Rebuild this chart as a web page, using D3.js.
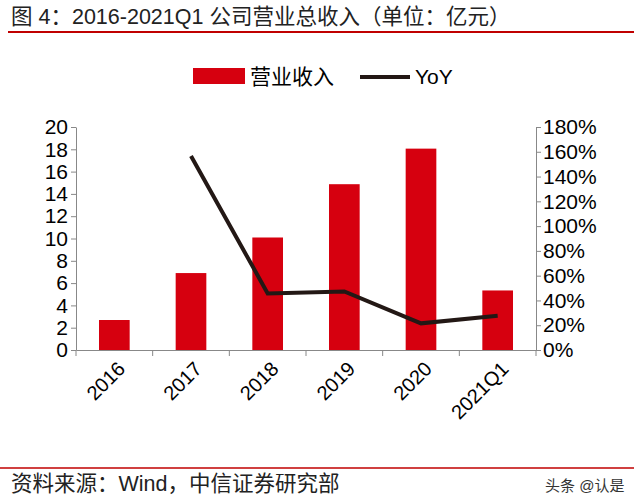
<!DOCTYPE html><html><head><meta charset="utf-8"><script src="https://cdn.jsdelivr.net/npm/d3@7"></script>
<style>body{margin:0;background:#fff}text{font-family:"Liberation Sans","Noto Sans CJK SC",sans-serif}</style></head><body>
<svg id="c" width="634" height="502"></svg>
<script>
const categories=["2016","2017","2018","2019","2020","2021Q1"];
const revenue=[2.69,6.9,10.09,14.87,18.06,5.34];
const yoy=[null,156.6,45.7,47.3,21.5,27.7];
const leftTicks=[0,2,4,6,8,10,12,14,16,18,20];
const rightTicks=[0,20,40,60,80,100,120,140,160,180];
const svg=d3.select("#c");
svg.append("text").attr("x",11).attr("y",24).attr("font-size",21.5).attr("fill","#222").text("图 4：2016-2021Q1 公司营业总收入（单位：亿元）");
svg.append("line").attr("x1",8).attr("x2",634).attr("y1",32).attr("y2",32).attr("stroke","#c00000").attr("stroke-width",2);
const L=76,R=536,T=127,B=350;
const x=d3.scaleBand().domain(categories).range([L,R]).paddingInner(0.6).paddingOuter(0.3);
const xb=d3.scaleBand().domain(categories).range([L,R]);
const y=d3.scaleLinear().domain([0,20]).range([B,T]);
const y2=d3.scaleLinear().domain([0,180]).range([B,T]);
svg.append("rect").attr("x",193).attr("y",68).attr("width",52).attr("height",16).attr("fill","#d6000f");
svg.append("text").attr("x",250).attr("y",84).attr("font-size",21).text("营业收入");
svg.append("line").attr("x1",360).attr("x2",410).attr("y1",77).attr("y2",77).attr("stroke","#231815").attr("stroke-width",4);
svg.append("text").attr("x",415).attr("y",84).attr("font-size",21).text("YoY");
svg.selectAll(".bar").data(revenue).join("rect").attr("x",(d,i)=>x(categories[i])).attr("width",x.bandwidth()).attr("y",d=>y(d)).attr("height",d=>B-y(d)).attr("fill","#d6000f");
const line=d3.line().defined(d=>d!=null).x((d,i)=>xb(categories[i])+xb.bandwidth()/2).y(d=>y2(d));
svg.append("path").datum(yoy).attr("d",line).attr("fill","none").attr("stroke","#231815").attr("stroke-width",4);
const la=svg.append("g").attr("transform",`translate(${L},0)`).call(d3.axisLeft(y).tickValues(leftTicks).tickSize(5).tickSizeOuter(0));
const ra=svg.append("g").attr("transform",`translate(${R},0)`).call(d3.axisRight(y2).tickValues(rightTicks).tickFormat(d=>d+"%").tickSize(5).tickSizeOuter(0));
const xa=svg.append("g").attr("transform",`translate(0,${B})`).call(d3.axisBottom(xb).tickSize(0).tickSizeOuter(0));
[la,ra].forEach(g=>{g.selectAll("text").attr("font-size",21).attr("fill","#000");g.selectAll("line,path").attr("stroke","#888")});
la.selectAll("text").attr("x",-8);ra.selectAll("text").attr("x",7);
xa.select(".domain").attr("stroke","#888");
xa.selectAll(".sep").data(d3.range(categories.length+1)).join("line").attr("x1",i=>L+i*xb.step()).attr("x2",i=>L+i*xb.step()).attr("y1",0).attr("y2",6).attr("stroke","#888");
xa.selectAll(".tick text").attr("font-size",20).attr("fill","#000").attr("text-anchor","end").attr("dy",0).attr("transform","translate(10,18) rotate(-45)");
svg.append("line").attr("x1",0).attr("x2",634).attr("y1",468).attr("y2",468).attr("stroke","#c00000").attr("stroke-width",1.5);
svg.append("text").attr("x",11).attr("y",491).attr("font-size",21.5).attr("fill","#222").text("资料来源：Wind，中信证券研究部");
svg.append("text").attr("x",545).attr("y",491).attr("font-size",15).attr("fill","#333").text("头条 @认是");
</script></body></html>
